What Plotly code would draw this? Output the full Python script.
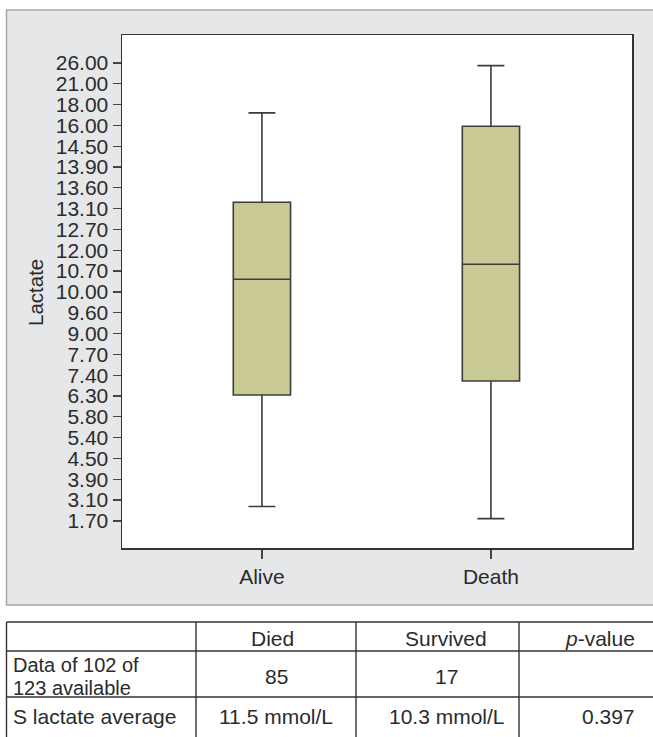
import plotly.graph_objects as go

# ---------------- data ----------------
groups = ["Alive", "Death"]
# ordinal lactate levels shown on the y axis (bottom -> top)
lactate_levels = ["1.70", "3.10", "3.90", "4.50", "5.40", "5.80", "6.30", "7.40",
                  "7.70", "9.00", "9.60", "10.00", "10.70", "12.00", "12.70", "13.10",
                  "13.60", "13.90", "14.50", "16.00", "18.00", "21.00", "26.00"]
# box statistics expressed as positions on the ordinal (rank) scale above
lower_whisker = [0.69, 0.11]
q1_rank = [6.05, 6.72]
median_rank = [11.61, 12.33]
q3_rank = [15.31, 18.96]
upper_whisker = [19.60, 21.87]

# table
table_header = ["", "Died", "Survived", "<i>p</i>-value"]
row1_label = ["Data of 102 of", "123 available"]
row1_values = ["85", "17", ""]
row2_label = "S lactate average"
row2_values = ["11.5 mmol/L", "10.3 mmol/L", "0.397"]

# ---------------- layout geometry ----------------
W, H = 653, 737
L, R, T, B = 122, 21, 35, 189
PW, PH = W - L - R, H - T - B


def px(x):
    return (x - L) / PW


def py(y):
    return (H - B - y) / PH


FONT = "Liberation Sans, Arial, sans-serif"
TXT = "#2b2b2b"

fig = go.Figure()
fig.add_trace(go.Box(
    x=groups,
    q1=q1_rank, median=median_rank, q3=q3_rank,
    lowerfence=lower_whisker, upperfence=upper_whisker,
    boxpoints=False,
    fillcolor="#c9c995",
    line=dict(color="#3c3c3c", width=1.6),
    width=0.25,
    whiskerwidth=0.47,
    hoverinfo="skip",
))

shapes = []
# grey chart panel
shapes.append(dict(type="rect", xref="paper", yref="paper", layer="below",
                   x0=px(6.5), x1=px(670), y0=py(605), y1=py(10),
                   fillcolor="#e6e7e8", line=dict(color="#a8a8a8", width=1.5)))
# white plot area
shapes.append(dict(type="rect", xref="paper", yref="paper", layer="below",
                   x0=0, x1=1, y0=0, y1=1,
                   fillcolor="white", line=dict(width=0)))

# table lines
tbl_line = dict(color="#333333", width=1.4)
for yy in [622, 651, 697]:
    shapes.append(dict(type="line", xref="paper", yref="paper",
                       x0=px(6.5), x1=px(670), y0=py(yy), y1=py(yy), line=tbl_line))
for xx in [6.5, 196, 356, 519]:
    shapes.append(dict(type="line", xref="paper", yref="paper",
                       x0=px(xx), x1=px(xx), y0=py(622), y1=py(745), line=tbl_line))

annotations = []


def add_text(text, x, y, xanchor="center", size=21, align="center"):
    annotations.append(dict(text=text, x=px(x), y=py(y), xref="paper", yref="paper",
                            xanchor=xanchor, yanchor="middle", showarrow=False, align=align,
                            font=dict(family=FONT, size=size, color=TXT)))


# y axis title
annotations.append(dict(text="Lactate", x=px(35), y=py(293), xref="paper", yref="paper",
                        xanchor="center", yanchor="middle", showarrow=False, textangle=-90,
                        font=dict(family=FONT, size=20.5, color=TXT)))

header_x = [272, 446, 600]
for t, xx in zip(table_header[1:], header_x):
    add_text(t, xx, 638)
add_text(row1_label[0], 11, 665, xanchor="left", size=20, align="left")
add_text(row1_label[1], 11, 688, xanchor="left", size=20, align="left")
for t, xx in zip(row1_values, [276, 446, 600]):
    if t:
        add_text(t, xx, 676)
add_text(row2_label, 11, 716, xanchor="left")
for t, xx in zip(row2_values, [276, 447, 608]):
    add_text(t, xx, 716)

fig.update_layout(
    width=W, height=H,
    margin=dict(l=L, r=R, t=T, b=B, pad=0),
    paper_bgcolor="white",
    plot_bgcolor="rgba(0,0,0,0)",
    showlegend=False,
    shapes=shapes,
    annotations=annotations,
    font=dict(family=FONT, color=TXT),
)
fig.update_xaxes(
    type="category", range=[-0.611, 1.616],
    showline=True, mirror=True, linecolor="#333333", linewidth=1.5,
    ticks="outside", ticklen=9, tickwidth=1.3, tickcolor="#444444",
    tickfont=dict(family=FONT, size=21, color=TXT),
    showgrid=False, zeroline=False, fixedrange=True,
)
fig.update_yaxes(
    range=[-1.30, 23.34],
    tickmode="array", tickvals=list(range(len(lactate_levels))), ticktext=lactate_levels,
    showline=True, mirror=True, linecolor="#333333", linewidth=1.5,
    ticks="outside", ticklen=8, tickwidth=1.3, tickcolor="#444444",
    tickfont=dict(family=FONT, size=21, color=TXT),
    showgrid=False, zeroline=False, fixedrange=True,
)

fig.write_html("out.html",
               config={"displayModeBar": False, "staticPlot": True},
               post_script="document.body.style.margin='0';document.body.style.overflow='hidden';")
